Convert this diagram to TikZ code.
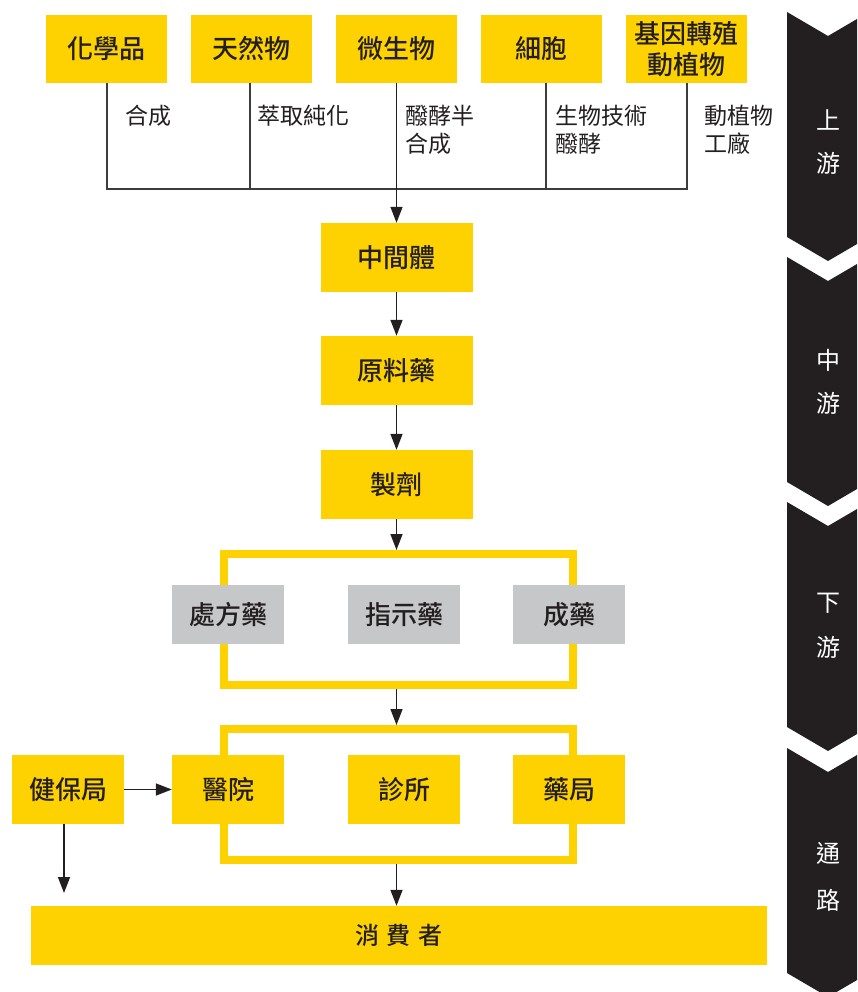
\documentclass[tikz,border=0pt]{standalone}
\usepackage{fontspec}
\usepackage{tikz}
\newfontfamily\cjk{Noto Sans CJK TC}
\newfontfamily\cjkmed{Noto Sans CJK TC Medium}
\definecolor{yy}{RGB}{253, 210, 0}
\definecolor{gg}{RGB}{198, 199, 201}
\definecolor{kk}{RGB}{35, 31, 32}
\definecolor{ll}{RGB}{60, 60, 60}
\usetikzlibrary{arrows.meta}
\tikzset{
  box/.style={rectangle, fill=yy, inner sep=0pt, text=kk, align=center,
    font=\cjkmed\fontsize{26}{31}\selectfont},
  topbox/.style={box, minimum width=121pt, minimum height=68pt},
  midbox/.style={box, minimum width=152pt, minimum height=69pt},
  sidebox/.style={box, minimum width=112pt, minimum height=69pt},
  greybox/.style={box, fill=gg, minimum width=112pt, minimum height=59pt},
  frame/.style={rectangle, draw=yy, line width=8pt, minimum width=349pt, minimum height=131pt},
  lbl/.style={inner sep=0pt, text=kk, align=left, anchor=north west,
    font=\cjk\fontsize{23}{28}\selectfont},
  band/.style={inner sep=0pt, text=white, font=\cjk\fontsize{24}{28}\selectfont},
  feed/.style={draw=ll, line width=1.2pt},
  arr/.style={draw=kk, line width=1.5pt, -{Triangle[length=16pt, width=12pt]}}
}
\begin{document}
\begin{tikzpicture}
\useasboundingbox (0pt, 0pt) rectangle (857pt, -992pt);
\clip (0pt, 0pt) rectangle (857pt, -992pt);
\foreach \t/\a/\b/\ya/\yb [count=\i] in {12/上/游/120/163, 257/中/游/360/403, 502/下/游/603/647, 748/通/路/853/900} {
  \fill [kk] (787pt, -\t pt) -- (828pt, -\t pt - 24pt) -- (869pt, -\t pt) -- (869pt, -\t pt - 225pt)
    -- (828pt, -\t pt - 249pt) -- (787pt, -\t pt - 225pt) -- cycle;
  \node (s\i a) [band] at (828pt, -\ya pt) {\a};
  \node (s\i b) [band] at (828pt, -\yb pt) {\b};
}
\node (rx) [frame] at (398.5pt, -619.5pt) {};
\node (chan) [frame] at (398.5pt, -794.5pt) {};
\node (chem) [topbox] at (106.5pt, -49pt) {化學品};
\node (nat) [topbox] at (251.5pt, -49pt) {天然物};
\node (micro) [topbox] at (396.5pt, -49pt) {微生物};
\node (cell) [topbox] at (541.5pt, -49pt) {細胞};
\node (gene) [topbox] at (686.5pt, -49pt) {基因轉殖\\動植物};
\node (l1) [lbl] at (125pt, -105pt) {合成};
\node (l2) [lbl] at (257pt, -105pt) {萃取純化};
\node (l3) [lbl] at (405pt, -105pt) {醱酵半\\合成};
\node (l4) [lbl] at (555pt, -105pt) {生物技術\\醱酵};
\node (l5) [lbl] at (704pt, -105pt) {動植物\\工廠};
\node (inter) [midbox] at (396.5pt, -257.5pt) {中間體};
\node (api) [midbox] at (396.5pt, -370.5pt) {原料藥};
\node (prep) [midbox] at (396.5pt, -484.5pt) {製劑};
\node (rxa) [greybox] at (228pt, -614.5pt) {處方藥};
\node (rxb) [greybox] at (404pt, -614.5pt) {指示藥};
\node (rxc) [greybox] at (569pt, -614.5pt) {成藥};
\node (nhi) [sidebox] at (68pt, -789.5pt) {健保局};
\node (hosp) [sidebox] at (228pt, -789.5pt) {醫院};
\node (clin) [sidebox] at (404pt, -789.5pt) {診所};
\node (pharm) [sidebox] at (569pt, -789.5pt) {藥局};
\node (cons) [box, minimum width=736pt, minimum height=59pt, font=\cjkmed\fontsize{24}{28}\selectfont] at (399pt, -935.5pt) {消\hspace{8pt}費\hspace{8pt}者};
\coordinate (jl) at (107pt, -189pt);
\coordinate (jr) at (687pt, -189pt);
\coordinate (nhiend) at (64pt, -893pt);
\draw [feed] (chem.south -| jl) to (jl) to (jr) to (gene.south -| jr);
\draw [feed] (nat.south -| 250pt, 0pt) to (250pt, -189pt);
\draw [feed] (cell.south -| 546pt, 0pt) to (546pt, -189pt);
\draw [arr] (micro.south) to (inter.north);
\draw [arr] (inter) to (api);
\draw [arr] (api) to (prep);
\draw [arr] (prep.south) to (rx.north -| prep.south);
\draw [arr] (rx.south -| prep.south) to (chan.north -| prep.south);
\draw [arr] (chan.south -| prep.south) to (cons.north -| prep.south);
\draw [arr] (nhi.east) to (hosp.west);
\draw [arr] (nhi.south -| nhiend) to (nhiend);
\end{tikzpicture}
\end{document}
